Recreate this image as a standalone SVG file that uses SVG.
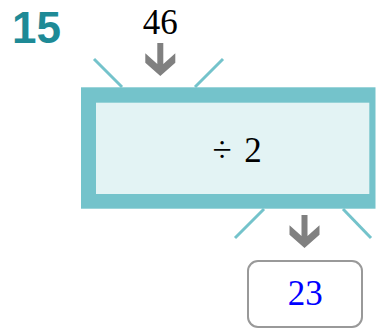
<svg xmlns="http://www.w3.org/2000/svg" width="376" height="333" viewBox="0 0 376 333">
  <defs>
    <style>
      .num { font-family: "Liberation Serif", "DejaVu Serif", serif; font-size: 35px; text-anchor: middle; }
      .ray { stroke: #74c3cb; stroke-width: 3; fill: none; }
      .arrow { fill: #808080; }
    </style>
    <polygon id="downArrow" points="-3,0 3,0 3,21 15,10.3 15,19.7 0,33 -15,19.7 -15,10.3 -3,21"/>
  </defs>
  <rect width="376" height="333" fill="#ffffff"/>
  <g id="label">
    <text x="12" y="43" font-family="Liberation Sans, Arial, sans-serif" font-weight="bold" font-size="44" fill="#1e8a96">15</text>
  </g>
  <g id="connectors">
    <line class="ray" x1="94" y1="59" x2="122" y2="87"/>
    <line class="ray" x1="223" y1="59" x2="195" y2="87"/>
    <line class="ray" x1="264" y1="209" x2="235" y2="238"/>
    <line class="ray" x1="343" y1="209" x2="371" y2="238"/>
    <use href="#downArrow" class="arrow" x="160.3" y="43"/>
    <use href="#downArrow" class="arrow" x="304.5" y="215"/>
  </g>
  <g id="input">
    <text class="num" x="160.3" y="33.7" fill="#000000">46</text>
  </g>
  <g id="machine">
    <rect x="81" y="87.3" width="294.5" height="121.4" fill="#74c3cb"/>
    <rect x="96" y="102.7" width="273.3" height="91.3" fill="#e3f3f4"/>
    <text class="num" x="222" y="161.7" font-size="34" fill="#000000">÷</text>
    <text class="num" x="253" y="161.7" font-size="34" fill="#000000">2</text>
  </g>
  <g id="output">
    <rect x="248" y="261" width="114" height="66" rx="10" ry="10" fill="#ffffff" stroke="#999999" stroke-width="2"/>
    <text class="num" x="305.3" y="305" fill="#0000ff">23</text>
  </g>
</svg>
